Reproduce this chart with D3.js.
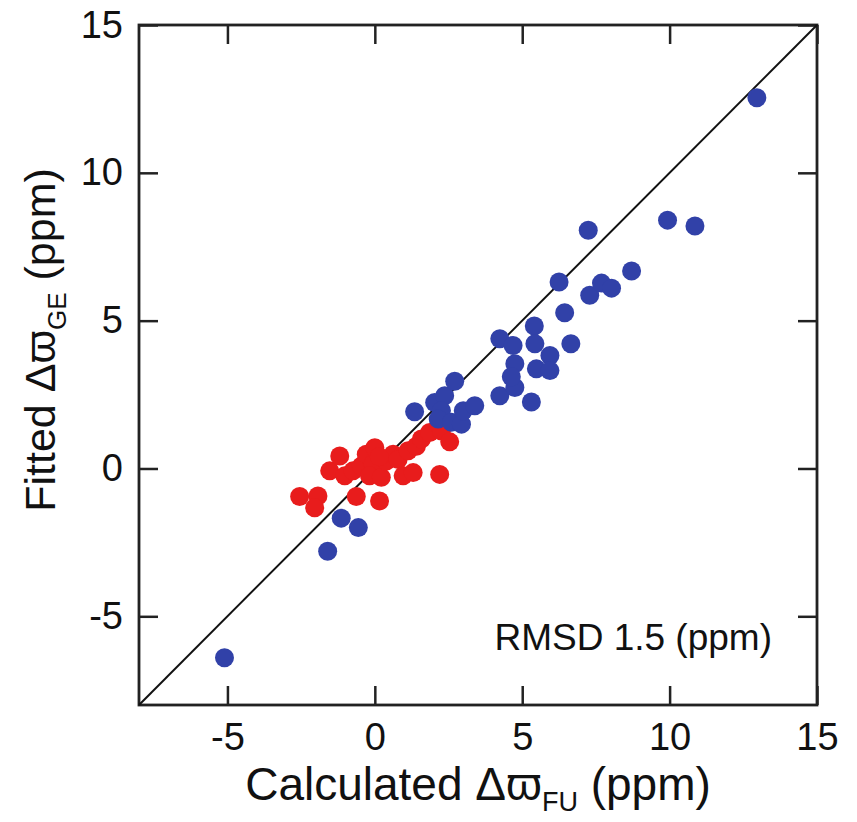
<!DOCTYPE html>
<html>
<head>
<meta charset="utf-8">
<style>
  body { margin: 0; background: #fff; }
  text { font-family: "Liberation Sans", Arial, Helvetica, sans-serif; fill: #111; }
</style>
</head>
<body>
<svg width="857" height="822"></svg>
<script src="https://cdn.jsdelivr.net/npm/d3@7"></script>
<script>
// calculated (x) vs fitted (y) shifts, ppm
var redX = [-2.55, -1.93, -2.04, -1.53, -1.19, -1.02, -0.74, -0.63, -0.46, -0.29, 0.0, -0.06, -0.18, 0.16, 0.22, 0.39, 0.62, 0.79, 0.96, 1.3, 1.13, 1.41, 1.58, 1.86, 2.26, 2.54, 2.2, 0.15];
var redY = [-0.95, -0.93, -1.33, -0.08, 0.42, -0.25, -0.08, -0.95, 0.08, 0.48, 0.7, 0.15, -0.25, -1.1, -0.3, 0.25, 0.48, 0.3, -0.25, -0.14, 0.6, 0.75, 1.0, 1.22, 1.27, 0.9, -0.2, 0.4];

var blueX = [-5.1, -1.6, -1.14, -0.56, 1.35, 2.03, 2.37, 2.26, 2.15, 2.6, 2.94, 3.0, 2.71, 3.39, 4.24, 4.75, 5.31, 4.24, 4.69, 4.75, 4.63, 5.48, 5.94, 5.94, 5.41, 5.43, 6.65, 6.44, 6.25, 7.29, 7.69, 8.03, 8.71, 7.24, 9.93, 10.86, 12.96];
var blueY = [-6.4, -2.8, -1.68, -2.0, 1.92, 2.23, 2.46, 1.95, 1.67, 1.56, 1.5, 1.95, 2.95, 2.12, 2.46, 2.74, 2.25, 4.39, 4.16, 3.54, 3.1, 3.37, 3.82, 3.31, 4.82, 4.22, 4.22, 5.27, 6.31, 5.86, 6.27, 6.1, 6.68, 8.06, 8.4, 8.2, 12.54];

var xTicks = [-5, 0, 5, 10, 15];
var yTicks = [-5, 0, 5, 10, 15];
var rmsdLabel = "RMSD 1.5 (ppm)";

var margin = {left: 139, top: 25, right: 40, bottom: 117};
var W = 857, H = 822;
var w = W - margin.left - margin.right;
var h = H - margin.top - margin.bottom;

var svg = d3.select('svg');
var g = svg.append('g').attr('transform', 'translate(' + margin.left + ',' + margin.top + ')');

var x = d3.scaleLinear().domain([-8, 15]).range([0, w]);
var y = d3.scaleLinear().domain([-8, 15]).range([h, 0]);

var TICK = 19;
// plain hyphen for negatives, as in the original
var fmt = function(d) { return String(d); };

function styleAxis(sel, showLabels) {
  sel.select('.domain').remove();
  sel.selectAll('.tick line').attr('stroke', '#222').attr('stroke-width', 2.5);
  sel.selectAll('.tick text')
    .style('font-size', '38px')
    .style('font-family', '"Liberation Sans", Arial, sans-serif')
    .attr('fill', '#111');
  if (!showLabels) sel.selectAll('.tick text').remove();
}

// bottom
g.append('g').attr('transform', 'translate(0,' + h + ')')
  .call(d3.axisBottom(x).tickValues(xTicks).tickSizeInner(-TICK).tickSizeOuter(0).tickPadding(18).tickFormat(fmt))
  .call(styleAxis, true);
// top
g.append('g')
  .call(d3.axisTop(x).tickValues(xTicks).tickSizeInner(-TICK).tickSizeOuter(0))
  .call(styleAxis, false);
// left
g.append('g')
  .call(d3.axisLeft(y).tickValues(yTicks).tickSizeInner(-TICK).tickSizeOuter(0).tickPadding(16).tickFormat(fmt))
  .call(styleAxis, true);
// right
g.append('g').attr('transform', 'translate(' + w + ',0)')
  .call(d3.axisRight(y).tickValues(yTicks).tickSizeInner(-TICK).tickSizeOuter(0))
  .call(styleAxis, false);

// frame
g.append('rect')
  .attr('x', 0).attr('y', 0).attr('width', w).attr('height', h)
  .attr('fill', 'none').attr('stroke', '#222').attr('stroke-width', 2.8);

// diagonal y = x
g.append('line')
  .attr('x1', x(-8)).attr('y1', y(-8))
  .attr('x2', x(15)).attr('y2', y(15))
  .attr('stroke', '#111').attr('stroke-width', 2);

var R = 9.5;
var redPts = redX.map(function(v, i) { return [v, redY[i]]; });
var bluePts = blueX.map(function(v, i) { return [v, blueY[i]]; });

g.selectAll('.red').data(redPts).enter().append('circle')
  .attr('class', 'red')
  .attr('cx', function(d) { return x(d[0]); })
  .attr('cy', function(d) { return y(d[1]); })
  .attr('r', R)
  .attr('fill', '#e81c1c');

g.selectAll('.blue').data(bluePts).enter().append('circle')
  .attr('class', 'blue')
  .attr('cx', function(d) { return x(d[0]); })
  .attr('cy', function(d) { return y(d[1]); })
  .attr('r', R)
  .attr('fill', '#3141a8');

// RMSD note
g.append('text')
  .attr('x', w - 45).attr('y', y(-6.15))
  .attr('text-anchor', 'end')
  .style('font-size', '37px')
  .text(rmsdLabel);

// x title
var xt = svg.append('text')
  .attr('x', margin.left + w / 2).attr('y', 800)
  .attr('text-anchor', 'middle')
  .style('font-size', '46px');
xt.append('tspan').text('Calculated \u0394\u03d6');
xt.append('tspan').attr('dy', 11).style('font-size', '27px').text('FU');
xt.append('tspan').attr('dy', -11).text(' (ppm)');

// y title
var yt = svg.append('text')
  .attr('transform', 'translate(55,340) rotate(-90)')
  .attr('text-anchor', 'middle')
  .style('font-size', '43px');
yt.append('tspan').text('Fitted \u0394\u03d6');
yt.append('tspan').attr('dy', 11).style('font-size', '26px').text('GE');
yt.append('tspan').attr('dy', -11).text(' (ppm)');
</script>
</body>
</html>
